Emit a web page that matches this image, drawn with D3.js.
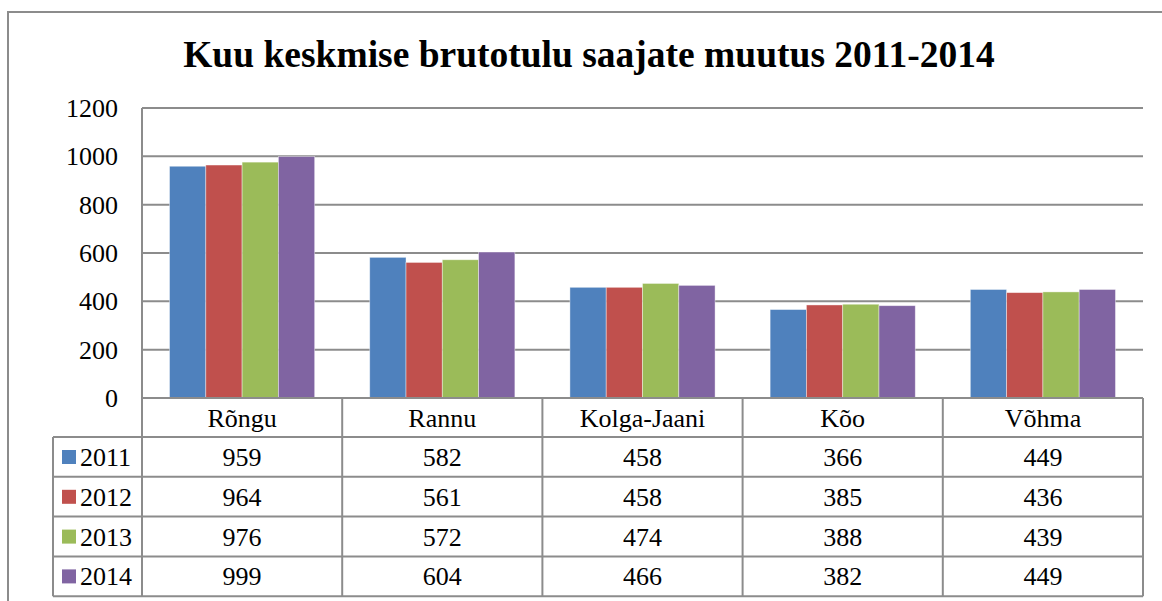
<!DOCTYPE html>
<html lang="et">
<head>
<meta charset="UTF-8">
<script src="https://d3js.org/d3.v7.min.js"></script>
<style>
    body { margin: 0; background: white; }
    text { font-family: "Liberation Serif", "Times New Roman", serif; fill: black; }
</style>
</head>
<body>
<script>
    // data from the chart's table
    var categories = ["Rõngu", "Rannu", "Kolga-Jaani", "Kõo", "Võhma"];
    var years = ["2011", "2012", "2013", "2014"];
    var v2011 = [959, 582, 458, 366, 449];
    var v2012 = [964, 561, 458, 385, 436];
    var v2013 = [976, 572, 474, 388, 439];
    var v2014 = [999, 604, 466, 382, 449];
    var yTicks = [0, 200, 400, 600, 800, 1000, 1200];
    var colors = ["#4F81BD", "#C0504D", "#9BBB59", "#8064A2"];
    var seriesValues = [v2011, v2012, v2013, v2014];

    var W = 1162, H = 601;
    var gridColor = "#8c8c8c";
    var svg = d3.select("body").append("svg")
        .attr("width", W)
        .attr("height", H);

    var plotLeft = 142, plotRight = 1143, plotTop = 108, zero = 398;
    var tableLeft = 53, headerBottom = 437, rowH = 39.8;

    var x = d3.scaleBand().domain(categories).range([plotLeft, plotRight]).paddingInner(0.275).paddingOuter(0.1375);
    var xInner = d3.scaleBand().domain(years).range([0, x.bandwidth()]);
    var y = d3.scaleLinear().domain([0, 1200]).range([zero, plotTop]);

    // outer chart border (left + top only visible)
    svg.append("path")
        .attr("d", "M8," + H + "V12H" + W)
        .attr("fill", "none")
        .attr("stroke", gridColor)
        .attr("stroke-width", 2);

    // title
    svg.append("text")
        .attr("x", 589)
        .attr("y", 67)
        .attr("text-anchor", "middle")
        .style("font-size", "37.5px")
        .style("font-weight", "bold")
        .text("Kuu keskmise brutotulu saajate muutus 2011-2014");

    // gridlines
    svg.selectAll(".grid").data(yTicks.filter(function(d) { return d > 0; })).enter()
        .append("line")
        .attr("x1", plotLeft).attr("x2", plotRight)
        .attr("y1", function(d) { return y(d); })
        .attr("y2", function(d) { return y(d); })
        .attr("stroke", gridColor)
        .attr("stroke-width", 2);

    // y labels
    svg.selectAll(".ylab").data(yTicks).enter()
        .append("text")
        .attr("x", 118)
        .attr("y", function(d) { return y(d) + 9; })
        .attr("text-anchor", "end")
        .style("font-size", "26px")
        .text(function(d) { return d; });

    // bars
    var groups = svg.selectAll(".grp").data(categories).enter()
        .append("g")
        .attr("transform", function(d) { return "translate(" + x(d) + ",0)"; });
    groups.selectAll("rect")
        .data(function(c, i) {
            return years.map(function(yr, j) { return { year: yr, value: seriesValues[j][i], color: colors[j] }; });
        })
        .enter().append("rect")
        .attr("x", function(d) { return xInner(d.year); })
        .attr("y", function(d) { return y(d.value); })
        .attr("width", xInner.bandwidth())
        .attr("height", function(d) { return zero - y(d.value); })
        .attr("fill", function(d) { return d.color; })
        .attr("stroke", "rgba(255,255,255,0.5)")
        .attr("stroke-width", 0.8);

    // vertical axis line
    svg.append("line").attr("x1", plotLeft).attr("x2", plotLeft).attr("y1", plotTop).attr("y2", headerBottom)
        .attr("stroke", gridColor).attr("stroke-width", 2);

    // data table
    var tableBottom = headerBottom + rowH * years.length;
    var tg = svg.append("g").attr("stroke", gridColor).attr("stroke-width", 2).attr("fill", "none");
    tg.append("line").attr("x1", plotLeft).attr("x2", plotRight).attr("y1", zero).attr("y2", zero);
    tg.append("line").attr("x1", plotRight).attr("x2", plotRight).attr("y1", zero).attr("y2", tableBottom);
    tg.append("line").attr("x1", plotLeft).attr("x2", plotLeft).attr("y1", zero).attr("y2", tableBottom);
    categories.forEach(function(c, i) {
        if (i > 0) {
            var xx = x(c) - x.step() * x.paddingInner() / 2;
            tg.append("line").attr("x1", xx).attr("x2", xx).attr("y1", zero).attr("y2", tableBottom);
        }
    });
    for (var r = 0; r <= years.length; r++) {
        var yy = headerBottom + rowH * r;
        tg.append("line").attr("x1", tableLeft).attr("x2", plotRight).attr("y1", yy).attr("y2", yy);
    }
    tg.append("line").attr("x1", tableLeft).attr("x2", tableLeft).attr("y1", headerBottom).attr("y2", tableBottom);

    // header labels
    svg.selectAll(".cat").data(categories).enter()
        .append("text")
        .attr("x", function(d) { return x(d) + x.bandwidth() / 2; })
        .attr("y", zero + 29)
        .attr("text-anchor", "middle")
        .style("font-size", "26px")
        .text(function(d) { return d; });

    // rows
    years.forEach(function(yr, j) {
        var rowTop = headerBottom + rowH * j;
        svg.append("rect")
            .attr("x", 62).attr("y", rowTop + 13)
            .attr("width", 14).attr("height", 14)
            .attr("fill", colors[j]);
        svg.append("text")
            .attr("x", 80).attr("y", rowTop + 29)
            .style("font-size", "26px")
            .text(yr);
        svg.selectAll(".cell" + j).data(seriesValues[j]).enter()
            .append("text")
            .attr("x", function(d, i) { return x(categories[i]) + x.bandwidth() / 2; })
            .attr("y", rowTop + 29)
            .attr("text-anchor", "middle")
            .style("font-size", "26px")
            .text(function(d) { return d; });
    });
</script>
</body>
</html>
